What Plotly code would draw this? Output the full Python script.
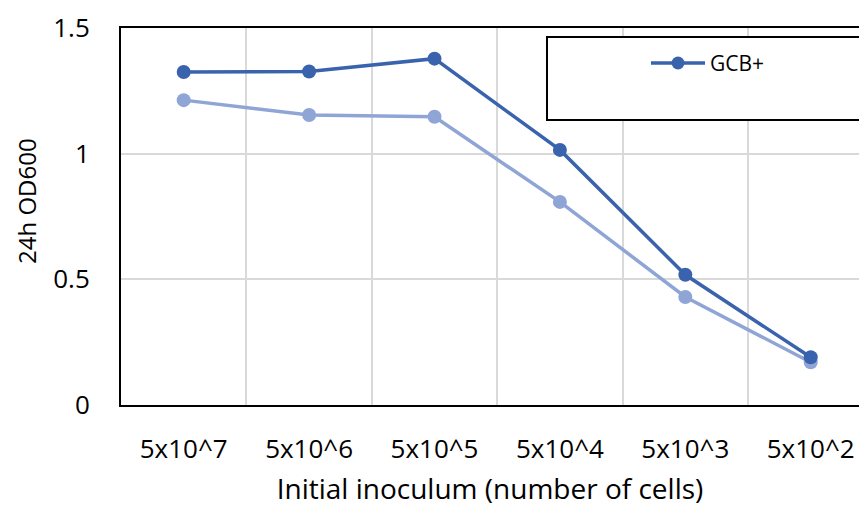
import plotly.graph_objects as go

# inoculum categories and 24h OD600 readings
inoculum = ["5x10^7", "5x10^6", "5x10^5", "5x10^4", "5x10^3", "5x10^2"]
od_gcb_plus = [1.325, 1.327, 1.378, 1.015, 0.518, 0.19]
od_second = [1.213, 1.154, 1.147, 0.808, 0.43, 0.17]

dark = "#3A63AD"
light = "#8FA5D6"
font = "Open Sans"

# plot area in screen pixels, used to place the legend box
px0, pw = 121, 738
py0, ph = 405, 377


def px(x):
    return (x - px0) / pw


def py(y):
    return (py0 - y) / ph


fig = go.Figure()

fig.add_trace(go.Scatter(
    x=inoculum, y=od_second, mode="lines+markers", name="",
    line=dict(color=light, width=3.5),
    marker=dict(size=14, color=light),
    showlegend=False,
))
fig.add_trace(go.Scatter(
    x=inoculum, y=od_gcb_plus, mode="lines+markers", name="GCB+",
    line=dict(color=dark, width=3.5),
    marker=dict(size=14, color=dark),
    showlegend=False,
))

# legend frame (runs off the right edge like the original)
fig.add_shape(type="rect", xref="paper", yref="paper",
              x0=px(547), x1=1.05, y0=py(120), y1=py(37),
              line=dict(color="black", width=2), fillcolor="white",
              layer="above")
# legend key: line with a dot, then label
fig.add_shape(type="line", xref="paper", yref="paper",
              x0=px(651), x1=px(705), y0=py(63), y1=py(63),
              line=dict(color=dark, width=3.5), layer="above")
fig.add_shape(type="circle", xref="paper", yref="paper",
              x0=px(671.5), x1=px(684.5), y0=py(69.5), y1=py(56.5),
              line=dict(color=dark, width=0), fillcolor=dark, layer="above")
fig.add_annotation(xref="paper", yref="paper", x=px(708), y=py(63),
                   xanchor="left", yanchor="middle", showarrow=False,
                   text="GCB+", font=dict(family=font, size=21, color="black"))

# y axis title sits a bit above the middle in the original
fig.add_annotation(xref="paper", yref="paper", x=px(26), y=py(201),
                   xanchor="center", yanchor="middle", showarrow=False,
                   textangle=-90, text="24h OD600",
                   font=dict(family=font, size=24, color="black"))

tick_font = dict(family=font, size=26, color="black")

fig.update_layout(
    width=859, height=509,
    margin=dict(l=121, r=0, t=28, b=104),
    plot_bgcolor="white", paper_bgcolor="white",
    font=dict(family=font, size=24, color="black"),
    showlegend=False,
    xaxis=dict(
        type="category", range=[-0.5, 5.385], automargin=False,
        tickson="boundaries", showgrid=True,
        gridcolor="#D9D9D9", gridwidth=2,
        showline=True, linecolor="black", linewidth=2, mirror=True,
        ticks="", ticklabelstandoff=20,
        tickfont=tick_font,
        title=dict(text="Initial inoculum (number of cells)", standoff=14,
                   font=dict(family=font, size=28, color="black")),
    ),
    yaxis=dict(
        range=[0, 1.5], dtick=0.5, tickformat="~g", automargin=False,
        showgrid=True, gridcolor="#D9D9D9", gridwidth=2,
        showline=True, linecolor="black", linewidth=2,
        zeroline=False, ticks="", ticklabelstandoff=24,
        tickfont=tick_font,
    ),
)

# drop the default page margin so the figure fills the window exactly
fig.write_html("out.html", config={"displayModeBar": False},
               post_script="document.body.style.margin='0';"
                           "document.body.style.overflow='hidden';")
